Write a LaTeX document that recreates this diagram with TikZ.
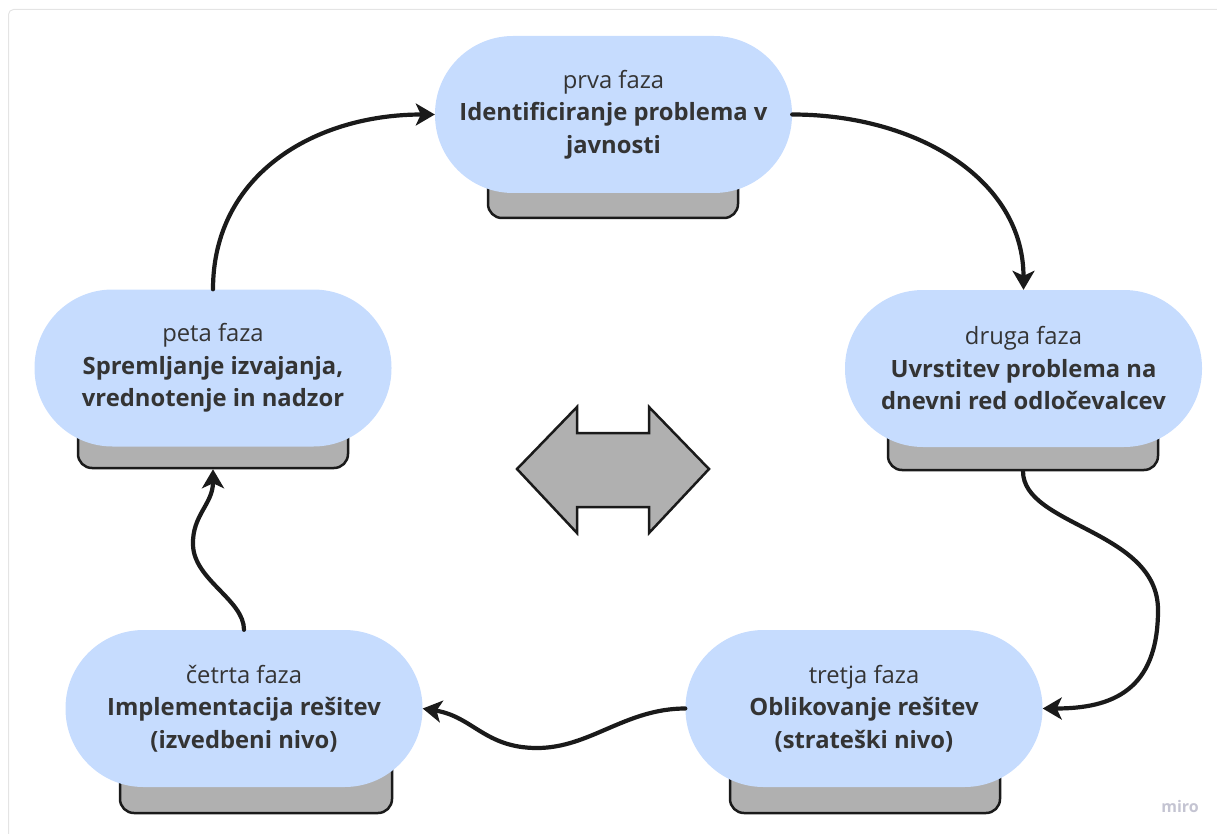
\documentclass[tikz,border=0pt]{standalone}
\usepackage{fontspec}
\setmainfont{Open Sans}
\usetikzlibrary{arrows.meta}

\definecolor{pillblue}{RGB}{198,220,254}
\definecolor{basegray}{RGB}{176,176,176}
\definecolor{edge}{RGB}{26,26,26}
\definecolor{txt}{RGB}{52,52,52}
\definecolor{framegray}{RGB}{228,228,228}
\definecolor{markgray}{RGB}{196,196,210}

\begin{document}
\begin{tikzpicture}[x=1pt,y=-1pt,
  phase/.style={fill=pillblue, rounded corners=78pt, minimum width=357pt,
    minimum height=157pt, inner sep=0pt, align=center, text=txt,
    font=\fontsize{23.8}{32.5}\selectfont},
  base/.style={fill=basegray, draw=edge, line width=2.5pt, rounded corners=14pt,
    minimum height=60pt, inner sep=0pt},
  flow/.style={draw=edge, line width=4.2pt, line cap=round,
    -{Stealth[length=19pt,width=22pt,inset=5pt]}},
]
\useasboundingbox (0,0) rectangle (1217,834);
\clip (0,0) rectangle (1217,834);

% outer board frame
\draw[framegray, line width=1pt, rounded corners=5pt] (8.5,9.5) rectangle (1240,860);

% grey plinths under each phase
\node[base, minimum width=250pt] (g1) at (613,188) {};
\node[base, minimum width=270pt] (g2) at (1023,440) {};
\node[base, minimum width=270pt] (g3) at (865,783) {};
\node[base, minimum width=272pt] (g4) at (256,783) {};
\node[base, minimum width=270pt] (g5) at (213,438) {};

% phases
\node[phase] (p1) at (613.5,114.5) {prva faza\\\textbf{Identificiranje problema v}\\\textbf{javnosti}};
\node[phase] (p2) at (1023.5,368.5) {druga faza\\\textbf{Uvrstitev problema na}\\\textbf{dnevni red odločevalcev}};
\node[phase] (p3) at (864,708.5) {tretja faza\\\textbf{Oblikovanje rešitev}\\\textbf{(strateški nivo)}};
\node[phase] (p4) at (244,708.5) {četrta faza\\\textbf{Implementacija rešitev}\\\textbf{(izvedbeni nivo)}};
\node[phase] (p5) at (213,368) {peta faza\\\textbf{Spremljanje izvajanja,}\\\textbf{vrednotenje in nadzor}};

% cycle connectors
\draw[flow] (p5.north) .. controls +(0,-115) and +(-120,0) .. (p1.west);
\draw[flow] (p1.east) .. controls +(125,0) and +(0,-110) .. (p2.north);
\draw[flow] (g2.south) .. controls +(0,55) and (1158,530) .. (1158,610)
  .. controls (1158,690) and +(70,0) .. (p3.east);
\draw[flow] (p3.west) .. controls +(-60,0) and (590,748) .. (537,748)
  .. controls (485,748) and +(50,8) .. (p4.east);
\draw[flow] (p4.north) .. controls +(0,-30) and (194,580) .. (193,545)
  .. controls (192,515) and +(0,35) .. (g5.south);

% central double arrow
\draw[fill=basegray, draw=edge, line width=2.5pt, line join=miter]
  (517,469) -- (577,407) -- (577,433) -- (649,433) -- (649,407) -- (709,469)
  -- (649,533) -- (649,507) -- (577,507) -- (577,533) -- cycle;

% watermark
\node[text=markgray, font=\fontsize{16}{16}\selectfont\bfseries] (wm) at (1180,806) {miro};
\end{tikzpicture}
\end{document}
